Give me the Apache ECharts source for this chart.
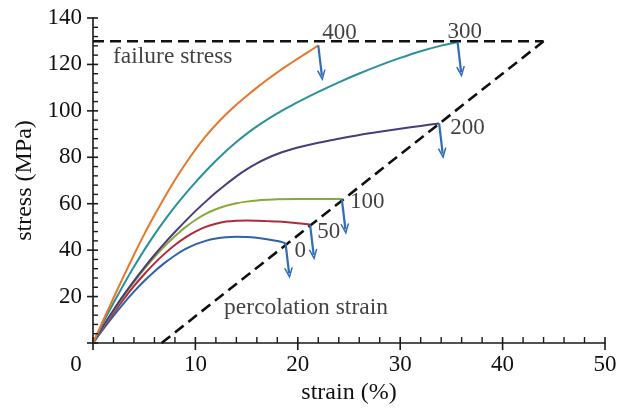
<!DOCTYPE html>
<html>
<head>
<meta charset="utf-8">
<script src="https://cdn.jsdelivr.net/npm/echarts@6/dist/echarts.min.js"></script>
<style>html,body{margin:0;padding:0;background:#fff}#c{width:624px;height:408px}</style>
</head>
<body>
<div id="c"></div>
<script>
// ---- data ----
var names = ['0', '50', '100', '200', '300', '400'];
var colors = ['#2e62a8', '#b02a3a', '#86aa3c', '#4b3b7d', '#2a9199', '#e8772e'];
var strain0   = [0,1,2,3,4,5,6,7,8,9,10,11,12,13,14,15,16,17,18,18.8];
var stress0   = [0,6,11.7,17.1,22.1,26.7,30.8,34.5,37.7,40.4,42.5,44,45,45.6,45.8,45.7,45.3,44.7,43.9,43];
var strain50  = [0,1,2,3,4,5,6,7,8,9,10,11,12,13,14,15,16,17,18,19,20,21.2];
var stress50  = [0,6.6,12.9,18.9,24.5,29.6,34.3,38.5,42.2,45.4,48,50,51.4,52.3,52.7,52.8,52.7,52.5,52.3,52,51.6,51];
var strain100 = [0,1,2,3,4,5,6,7,8,9,10,11,12,13,14,15,16,17,18,20,22,24.3];
var stress100 = [0,7,13.8,20.2,26.2,31.8,37,41.8,46,49.8,53,55.6,57.6,59.1,60.2,60.9,61.4,61.7,61.9,62,62,62];
var strain200 = [0,1,2,3,4,5,6,7,8,9,10,11,12,13,14,15,16,17,18,19,20,22,24,26,28,30,32,33.8];
var stress200 = [0,7.3,14.2,20.7,26.8,32.5,37.9,43,47.8,52.4,56.8,60.9,64.8,68.4,71.8,74.8,77.4,79.6,81.4,82.9,84.2,86.3,88,89.6,91,92.3,93.5,94.6];
var strain300 = [0,1,2,3,4,5,6,7,8,9,10,11,12,13,14,15,16,17,18,19,20,22,24,26,28,30,32,34,35.6];
var stress300 = [0,8.8,17.2,25.2,32.8,40,46.7,52.9,58.7,64.1,69.2,74,78.5,82.7,86.6,90.1,93.3,96.2,98.9,101.4,103.8,108.2,112.3,116.1,119.6,122.8,125.7,128.1,129.7];
var strain400 = [0,1,2,3,4,5,6,7,8,9,10,11,12,13,14,15,16,17,18,19,20,21,22];
var stress400 = [0,9.8,19.4,28.8,38,46.8,55,62.8,70.2,77,83.3,89,94,98.5,102.6,106.4,110,113.4,116.6,119.6,122.5,125.3,128.2];
var failureX = [0, 44];
var failureY = [130, 130];
var percX = [6.7, 44];
var percY = [0, 130];
var annTexts = ['failure stress', 'percolation strain'];
var annX = [1.95, 12.8];
var annY = [123.3, 15.2];
var xTicks = [0, 10, 20, 30, 40, 50];
var yTicks = [0, 20, 40, 60, 80, 100, 120, 140];

var strains = [strain0, strain50, strain100, strain200, strain300, strain400];
var stresses = [stress0, stress50, stress100, stress200, stress300, stress400];

// ---- styling ----
var FONT = '"Liberation Serif", "DejaVu Serif", serif';
var TXT = '#111';
var AX = '#1a1a1a';
var labelOffsets = [[9, 8], [7, 7], [8, 3], [11, 5], [-10, -10], [4, -12]];
var arrowDx = 0.35, arrowDy = -13;
var chevron = 'path://M0,10 L5,0 L10,10 L8.2,10 L5,3.6 L1.8,10 Z';
var MINOR_SPLIT = 5;

function pairs(xs, ys) { return xs.map(function (x, i) { return [x, ys[i]]; }); }

var series = [];
names.forEach(function (n, i) {
  var xs = strains[i], ys = stresses[i];
  var ex = xs[xs.length - 1], ey = ys[ys.length - 1];
  series.push({
    type: 'line', name: n, data: pairs(xs, ys), smooth: 0.3, showSymbol: false,
    lineStyle: { color: colors[i], width: 2 }, silent: true,
    markLine: {
      silent: true, symbol: ['none', chevron], symbolSize: [9, 11], label: { show: false },
      lineStyle: { color: '#2f6db5', width: 2.2, type: 'solid' },
      data: [[{ coord: [ex, ey] }, { coord: [ex + arrowDx, ey + arrowDy] }]]
    }
  });
});

series.push({ type: 'line', data: pairs(failureX, failureY), showSymbol: false, silent: true,
  lineStyle: { color: '#111', width: 2.6, type: [11, 6] } });
series.push({ type: 'line', data: pairs(percX, percY), showSymbol: false, silent: true,
  lineStyle: { color: '#111', width: 2.6, type: [11, 6] } });

series.push({
  type: 'scatter', silent: true, symbolSize: 0.1, itemStyle: { color: 'rgba(0,0,0,0)' },
  data: names.map(function (n, i) {
    var xs = strains[i], ys = stresses[i];
    return { value: [xs[xs.length - 1], ys[ys.length - 1]],
      label: { show: true, formatter: n, position: 'right', distance: 0, offset: labelOffsets[i],
        fontFamily: FONT, fontSize: 23, color: TXT } };
  })
});
series.push({
  type: 'scatter', silent: true, symbolSize: 0.1, itemStyle: { color: 'rgba(0,0,0,0)' },
  data: annTexts.map(function (t, i) {
    return { value: [annX[i], annY[i]],
      label: { show: true, formatter: t, position: 'right', distance: 0,
        fontFamily: FONT, fontSize: 23.5, color: TXT } };
  })
});

var chart = echarts.init(document.getElementById('c'), null, { renderer: 'canvas' });
chart.setOption({
  animation: false,
  backgroundColor: '#fff',
  grid: { left: 93, right: 19, top: 18, bottom: 65, containLabel: false, outerBoundsMode: 'none' },
  xAxis: {
    type: 'value', min: xTicks[0], max: xTicks[xTicks.length - 1], interval: xTicks[1] - xTicks[0],
    position: 'bottom',
    name: 'strain (%)', nameLocation: 'middle', nameGap: 36,
    nameTextStyle: { fontFamily: FONT, fontSize: 24, color: TXT },
    axisLine: { show: true, onZero: false, lineStyle: { color: AX, width: 1.6 } },
    axisTick: { show: false },
    minorTick: { show: false },
    splitLine: { show: false },
    axisLabel: { margin: 10, fontFamily: FONT, fontSize: 23, color: TXT,
      formatter: function (v) { return v === 0 ? '{z|0}' : String(v); },
      rich: { z: { fontFamily: FONT, fontSize: 23, color: TXT, padding: [0, 34, 0, 0] } } }
  },
  yAxis: {
    type: 'value', min: yTicks[0], max: yTicks[yTicks.length - 1], interval: yTicks[1] - yTicks[0],
    position: 'left',
    name: 'stress (MPa)', nameLocation: 'middle', nameGap: 56,
    nameTextStyle: { fontFamily: FONT, fontSize: 24, color: TXT },
    axisLine: { show: true, onZero: false, lineStyle: { color: AX, width: 1.6 } },
    axisTick: { show: false },
    minorTick: { show: false },
    splitLine: { show: false },
    axisLabel: { margin: 11, fontFamily: FONT, fontSize: 23, color: TXT,
      formatter: function (v) { return v === 0 ? '' : String(v); } }
  },
  series: series
});

// tick marks placed through the chart's own scales: major ticks cross the axis, minor ticks point inward
var tickEls = [];
function toPx(x, y) { return chart.convertToPixel({ gridIndex: 0 }, [x, y]); }
function tickLine(x1, y1, x2, y2, w) {
  tickEls.push({ type: 'line', silent: true, z: 100,
    shape: { x1: x1, y1: y1, x2: x2, y2: y2 },
    style: { stroke: AX, lineWidth: w } });
}
xTicks.forEach(function (t, i) {
  var p = toPx(t, yTicks[0]);
  tickLine(p[0], p[1] - 6, p[0], p[1] + 7, 1.6);
  if (i < xTicks.length - 1) {
    var step = (xTicks[i + 1] - t) / MINOR_SPLIT;
    for (var k = 1; k < MINOR_SPLIT; k++) {
      var q = toPx(t + k * step, yTicks[0]);
      tickLine(q[0], q[1] - 6, q[0], q[1], 1.4);
    }
  }
});
yTicks.forEach(function (t, i) {
  var p = toPx(xTicks[0], t);
  tickLine(p[0] - 6, p[1], p[0] + 5, p[1], 1.6);
  if (i < yTicks.length - 1) {
    var step = (yTicks[i + 1] - t) / MINOR_SPLIT;
    for (var k = 1; k < MINOR_SPLIT; k++) {
      var q = toPx(xTicks[0], t + k * step);
      tickLine(q[0], q[1], q[0] + 5, q[1], 1.4);
    }
  }
});
chart.setOption({ graphic: tickEls });
</script>
</body>
</html>
